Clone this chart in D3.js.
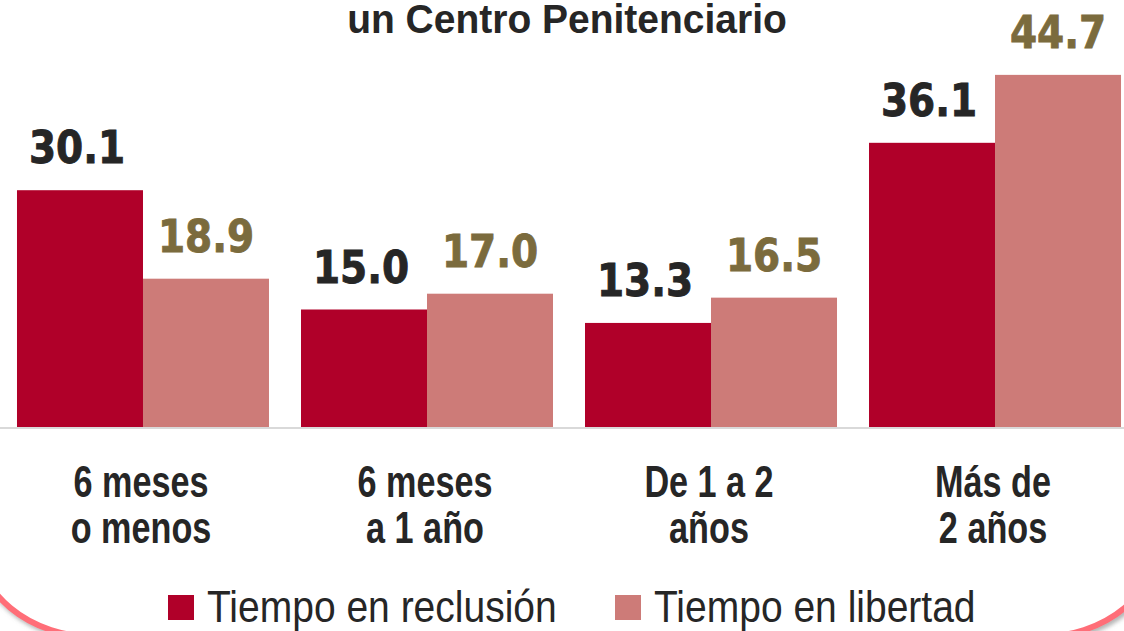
<!DOCTYPE html>
<html>
<head>
<meta charset="utf-8">
<script src="https://cdn.jsdelivr.net/npm/d3@7/dist/d3.min.js"></script>
<style>
  html, body { margin: 0; padding: 0; background: #fff; }
  svg { display: block; }
</style>
</head>
<body>
<svg id="chart" width="1124" height="631"></svg>
<script>
// ---- Data ----
const title = "un Centro Penitenciario";
const categories = ["6 meses|o menos", "6 meses|a 1 año", "De 1 a 2|años", "Más de|2 años"];
const seriesNames = ["Tiempo en reclusión", "Tiempo en libertad"];
const reclusion = [30.1, 15.0, 13.3, 36.1];
const libertad = [18.9, 17.0, 16.5, 44.7];

// ---- Styles ----
const W = 1124, H = 631;
const barColors = ["#B00029", "#CD7B78"];
const labelColors = ["#262626", "#7B6B3D"];
const SY = 1.13; // vertical stretch of the original picture

const svg = d3.select("#chart");

// Background rounded frame with shadow
const defs = svg.append("defs");
const f = defs.append("filter").attr("id", "sh").attr("x", "-10%").attr("y", "-10%").attr("width", "120%").attr("height", "120%");
f.append("feDropShadow").attr("dx", 2).attr("dy", 3).attr("stdDeviation", 2)
  .attr("flood-color", "#777").attr("flood-opacity", 0.55);

svg.append("rect")
  .attr("x", -25).attr("y", -100)
  .attr("width", 1185).attr("height", 737)
  .attr("rx", 120).attr("ry", 100)
  .attr("fill", "#fff")
  .attr("stroke", "#FF6E78").attr("stroke-width", 6)
  .attr("filter", "url(#sh)");

// Scales
const x0 = d3.scaleBand().domain(categories).range([1, 1137])
  .paddingInner(0.1127).paddingOuter(0.0563);
const x1 = d3.scaleBand().domain(seriesNames).range([0, x0.bandwidth()]);
const y = d3.scaleLinear().domain([0, 50]).range([428, 33]);

const rows = categories.map((c, i) => ({ cat: c, vals: [reclusion[i], libertad[i]] }));

// Bars
const g = svg.append("g");
const groups = g.selectAll("g.grp").data(rows).join("g")
  .attr("class", "grp")
  .attr("transform", d => `translate(${x0(d.cat)},0)`);

groups.selectAll("rect").data(d => d.vals.map((v, k) => ({ v, k }))).join("rect")
  .attr("x", d => x1(seriesNames[d.k]))
  .attr("y", d => y(d.v))
  .attr("width", x1.bandwidth())
  .attr("height", d => y(0) - y(d.v))
  .attr("fill", d => barColors[d.k]);

// Value labels
groups.selectAll("text.val").data(d => d.vals.map((v, k) => ({ v, k }))).join("text")
  .attr("class", "val")
  .attr("transform", d => `translate(${x1(seriesNames[d.k]) + x1.bandwidth() / 2 - (d.k === 0 ? 3 : 0)},${y(d.v) - 27}) scale(1,${SY})`)
  .attr("text-anchor", "middle")
  .attr("font-family", "'DejaVu Sans', Verdana, sans-serif")
  .attr("font-weight", "bold")
  .attr("font-size", 39)
  .attr("fill", d => labelColors[d.k])
  .attr("stroke", d => labelColors[d.k])
  .attr("stroke-width", 0.8)
  .text(d => d.v.toFixed(1));

// Axis baseline
const xAxis = d3.axisBottom(x0).tickSize(0).tickFormat("");
const ax = svg.append("g").attr("transform", `translate(0,${y(0)})`).call(xAxis);
ax.select(".domain").attr("d", `M0,0H${W}`).attr("stroke", "#D9D9D9").attr("stroke-width", 2);

// Category labels
const cl = svg.append("g");
rows.forEach(r => {
  const cx = x0(r.cat) + x0.bandwidth() / 2 - 2;
  r.cat.split("|").forEach((line, j) => {
    cl.append("text")
      .attr("transform", `translate(${cx},${497 + j * 46}) scale(0.855,${1.117})`)
      .attr("text-anchor", "middle")
      .attr("font-family", "'Liberation Sans', Arial, sans-serif")
      .attr("font-weight", "bold")
      .attr("font-size", 40)
      .attr("fill", "#262626")
      .text(line);
  });
});

// Title
svg.append("text")
  .attr("transform", `translate(567,33) scale(1,1.05)`)
  .attr("text-anchor", "middle")
  .attr("font-family", "'Liberation Sans', Arial, sans-serif")
  .attr("font-weight", "bold")
  .attr("font-size", 39)
  .attr("fill", "#262626")
  .text(title);

// Legend
const legX = [168, 615];
const leg = svg.append("g");
seriesNames.forEach((s, k) => {
  leg.append("rect")
    .attr("x", legX[k]).attr("y", 595)
    .attr("width", 26).attr("height", 25)
    .attr("fill", barColors[k]);
  leg.append("text")
    .attr("transform", `translate(${legX[k] + 39},622) scale(1,${SY})`)
    .attr("font-family", "'Liberation Sans', Arial, sans-serif")
    .attr("font-size", 39)
    .attr("fill", "#262626")
    .text(s);
});
</script>
</body>
</html>
